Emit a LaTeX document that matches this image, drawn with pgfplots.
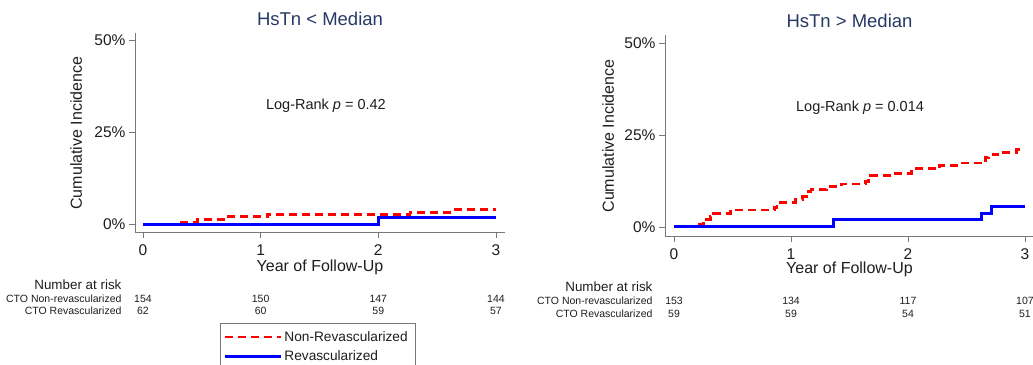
\documentclass[border=0pt]{standalone}
\usepackage{fontspec}
\setmainfont{Liberation Sans}
\usepackage{pgfplots}
\pgfplotsset{compat=1.18}
\definecolor{navyt}{RGB}{38,56,100}
\definecolor{axgray}{RGB}{120,120,120}
\definecolor{txt}{RGB}{30,30,30}

\pgfplotsset{
 kmaxis/.style={
  scale only axis, clip=false,
  axis lines*=left,
  axis line style={axgray, line width=0.8pt},
  tick style={axgray, line width=0.8pt},
  tick align=outside, major tick length=6pt,
  xtick={0,1,2,3}, ytick={0,25,50}, yticklabels={0\%,25\%,50\%},
  xmin=-0.068, xmax=3.077,
  /pgf/number format/assume math mode=true,
  ticklabel style={font=\fontsize{15.5}{15.5}\selectfont, text=txt},
  xticklabel style={yshift=-3.5pt},
  title style={font=\fontsize{18.5}{18.5}\selectfont, text=navyt, at={(0.5,1)}, anchor=base, yshift=1pt},
  xlabel={Year of Follow-Up},
  ylabel={Cumulative Incidence},
 },
 redline/.style={const plot, red, line width=2.8pt, dash pattern=on 8pt off 5pt},
 blueline/.style={const plot, blue, line width=3pt},
}

\begin{document}
\begin{tikzpicture}
\path[use as bounding box] (0,0) rectangle (1033pt,364pt);

% ---------------- left panel ----------------
\begin{axis}[kmaxis,
  at={(135pt,132pt)}, anchor=south west,
  width=370pt, height=199pt,
  ymin=-2.17, ymax=51.9,
  title={HsTn < Median},
  every axis y label/.style={at={(axis description cs:-0.159,0.497)}, rotate=90, anchor=center,
    font=\fontsize{16}{16}\selectfont, text=txt},
  every axis x label/.style={at={(axis description cs:0.5,-0.176)}, anchor=center,
    font=\fontsize{16}{16}\selectfont, text=txt},
  legend style={at={(0.2297,-0.457)}, anchor=north west, draw=axgray, line width=0.8pt,
    font=\fontsize{13.7}{13.7}\selectfont, text=txt, row sep=4pt, inner xsep=3pt, inner ysep=6pt},
  legend cell align=left,
  legend image code/.code={\draw[#1, const plot] (0pt,0pt) -- (52pt,0pt); \path (0pt,0pt) -- (56pt,0pt);},
]
\addplot[redline] coordinates {(0,0) (0.28,0.45) (0.46,1.2) (0.70,2.0) (1.06,2.6) (2.27,3.2) (2.61,3.9) (3.0,3.9)};
\addlegendentry{\makebox[126pt][l]{Non-Revascularized}}
\addplot[blueline] coordinates {(0,0) (2.0,1.7) (3.0,1.7)};
\addlegendentry{Revascularized}

\node[font=\fontsize{14.5}{14.5}\selectfont, text=txt] at (axis cs:1.555,32.0) {Log-Rank \textit{p} = 0.42};

\node[anchor=east, font=\fontsize{13.4}{13.4}\selectfont, text=txt] at (axis cs:-0.153,-16.6) {Number at risk};
\begin{scope}[every node/.style={font=\fontsize{10.5}{10.5}\selectfont, text=txt}]
\node[anchor=east] at (axis cs:-0.153,-20.4) {CTO Non-revascularized};
\node[anchor=east] at (axis cs:-0.153,-23.6) {CTO Revascularized};
\node at (axis cs:0,-20.4) {154};
\node at (axis cs:1,-20.4) {150};
\node at (axis cs:2,-20.4) {147};
\node at (axis cs:3,-20.4) {144};
\node at (axis cs:0,-23.6) {62};
\node at (axis cs:1,-23.6) {60};
\node at (axis cs:2,-23.6) {59};
\node at (axis cs:3,-23.6) {57};
\end{scope}
\end{axis}

% ---------------- right panel ----------------
\begin{axis}[kmaxis,
  at={(665pt,128pt)}, anchor=south west,
  width=369pt, height=201pt,
  xmin=-0.077, xmax=3.077,
  ymin=-2.45, ymax=52.2,
  title={HsTn > Median},
  every axis y label/.style={at={(axis description cs:-0.154,0.4975)}, rotate=90, anchor=center,
    font=\fontsize{16}{16}\selectfont, text=txt},
  every axis x label/.style={at={(axis description cs:0.5,-0.167)}, anchor=center,
    font=\fontsize{16}{16}\selectfont, text=txt},
]
\addplot[redline] coordinates {(0,0) (0.22,0.7) (0.25,1.4) (0.28,2.1) (0.31,2.8) (0.34,3.6)
 (0.48,4.2) (0.52,4.6) (0.86,5.4) (0.88,6.1) (0.90,6.7) (1.04,7.5) (1.10,8.2) (1.13,8.9)
 (1.15,9.6) (1.17,10.2) (1.30,10.9) (1.43,11.7) (1.64,12.4) (1.66,13.2) (1.68,13.9)
 (1.86,14.5) (2.03,15.2) (2.05,15.9) (2.27,16.8) (2.43,17.4) (2.64,18.1) (2.66,18.9)
 (2.69,19.6) (2.77,20.3) (2.93,21.1) (3.0,21.1)};
\addplot[blueline] coordinates {(0,0) (1.36,2.0) (2.63,3.7) (2.71,5.5) (3.0,5.5)};

\node[font=\fontsize{14.5}{14.5}\selectfont, text=txt] at (axis cs:1.59,32.3) {Log-Rank \textit{p} = 0.014};

\node[anchor=east, font=\fontsize{13.4}{13.4}\selectfont, text=txt] at (axis cs:-0.154,-16.3) {Number at risk};
\begin{scope}[every node/.style={font=\fontsize{10.5}{10.5}\selectfont, text=txt}]
\node[anchor=east] at (axis cs:-0.154,-20.1) {CTO Non-revascularized};
\node[anchor=east] at (axis cs:-0.154,-23.7) {CTO Revascularized};
\node at (axis cs:0,-20.1) {153};
\node at (axis cs:1,-20.1) {134};
\node at (axis cs:2,-20.1) {117};
\node at (axis cs:3,-20.1) {107};
\node at (axis cs:0,-23.7) {59};
\node at (axis cs:1,-23.7) {59};
\node at (axis cs:2,-23.7) {54};
\node at (axis cs:3,-23.7) {51};
\end{scope}
\end{axis}
\end{tikzpicture}
\end{document}
